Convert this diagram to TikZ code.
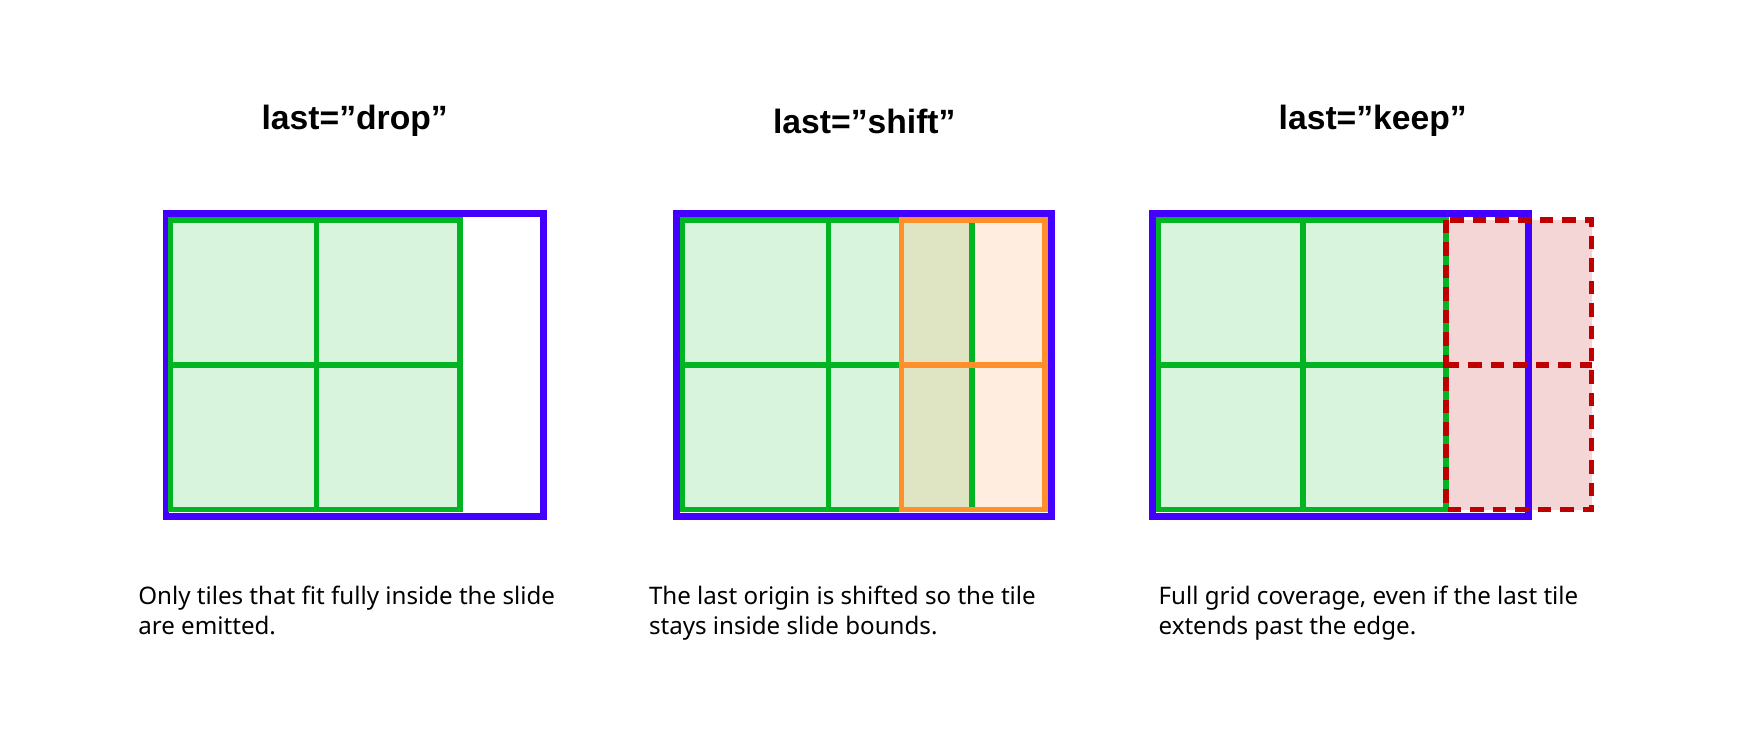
\documentclass[tikz,border=0pt]{standalone}
\usepackage{fontspec}
\setmainfont{Noto Sans}
\newfontfamily\ttlfont{Liberation Sans}
\definecolor{bl}{HTML}{4400FF}
\definecolor{gr}{HTML}{00B521}
\definecolor{grf}{HTML}{D8F4DC}
\definecolor{orl}{HTML}{FF8F2B}
\definecolor{orf}{HTML}{FFEDE0}
\definecolor{olf}{HTML}{DFE4C2}
\definecolor{rd}{HTML}{C00000}
\definecolor{pk}{HTML}{F4D6D6}
\tikzset{slide/.style={draw=bl,line width=6pt},
 gline/.style={draw=gr,line width=5pt},
 oline/.style={draw=orl,line width=5pt},
 rline/.style={draw=rd,line width=5pt,dash pattern=on 12pt off 8pt},
 ttl/.style={font=\ttlfont\bfseries\fontsize{30}{36}\selectfont,anchor=center},
 captext/.style={font=\fontsize{21.5}{27}\selectfont,anchor=north west,align=left,inner sep=0pt}}
\begin{document}
\begin{tikzpicture}[x=1pt,y=-1pt]
\useasboundingbox (0,0) rectangle (1568,662);
% panel 1
\fill[grf] (152,196) rectangle (410,454);
\draw[slide] (148,190) rectangle (484,460);
\draw[gline] (152,196) rectangle (410,454) (282,196)--(282,454) (152,325)--(410,325);
\node[ttl] (t1) at (316,108) {last=”drop”};
\node[captext] (c1) at (123,522) {Only tiles that fit fully inside the slide\\are emitted.};
% panel 2
\fill[grf] (608,196) rectangle (866,454);
\fill[orf] (803,196) rectangle (931,454);
\fill[olf] (803,196) rectangle (866,454);
\draw[slide] (603,190) rectangle (937,460);
\draw[gline] (608,196) rectangle (866,454) (738,196)--(738,454) (608,325)--(803,325) (866,196)--(866,454);
\draw[oline] (803,196) rectangle (931,454) (803,325)--(931,325);
\node[ttl] (t2) at (770,108) {last=”shift”};
\node[captext] (c2) at (578,522) {The last origin is shifted so the tile\\stays inside slide bounds.};
% panel 3
\fill[grf] (1032,196) rectangle (1288,454);
\fill[pk] (1288,196) rectangle (1418,454);
\draw[gline] (1032,196) rectangle (1288,454) (1161,196)--(1161,454) (1032,325)--(1288,325);
\draw[slide] (1027,190) rectangle (1362,460);
\draw[rline] (1288,196) rectangle (1418,454) (1288,325)--(1418,325);
\node[ttl] (t3) at (1223,108) {last=”keep”};
\node[captext] (c3) at (1032,522) {Full grid coverage, even if the last tile\\extends past the edge.};
\end{tikzpicture}
\end{document}
